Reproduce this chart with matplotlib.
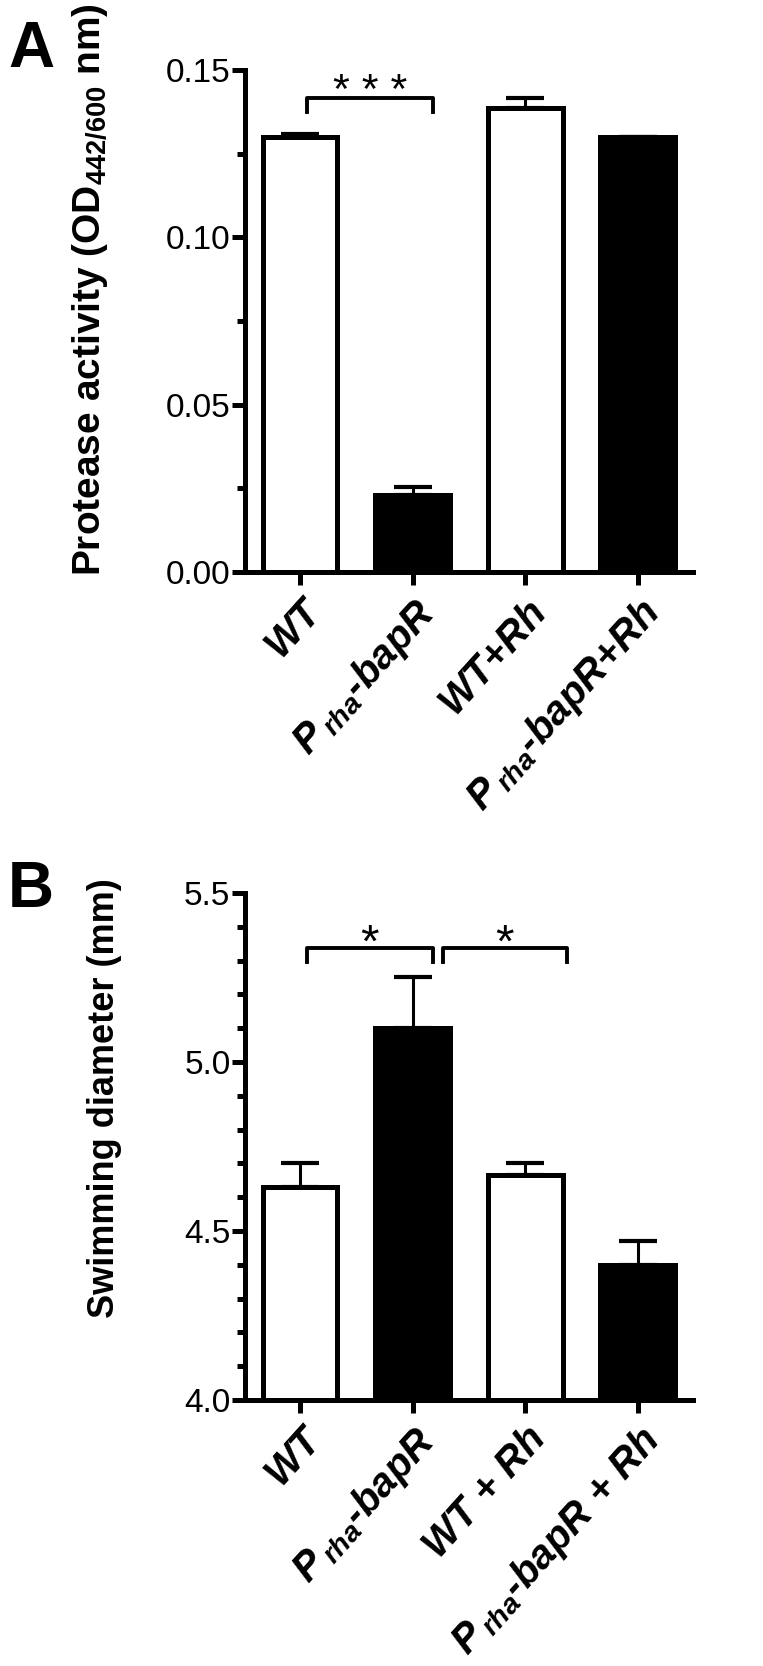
import matplotlib
matplotlib.use("Agg")
from matplotlib import pyplot as plt
from matplotlib.ticker import MultipleLocator, FormatStrFormatter

# panel A - protease activity
labels_a = ["WT", "$P_{\\,rha}$-bapR", "WT+Rh", "$P_{\\,rha}$-bapR+Rh"]
protease_mean = [0.130, 0.023, 0.1385, 0.130]
protease_err = [0.001, 0.0025, 0.003, 0.0]

# panel B - swimming diameter
labels_b = ["WT", "$P_{\\,rha}$-bapR", "WT + Rh", "$P_{\\,rha}$-bapR + Rh"]
swim_mean = [4.63, 5.10, 4.665, 4.40]
swim_err = [0.07, 0.15, 0.035, 0.07]

bar_colors = ["white", "black", "white", "black"]

# significance brackets: (x start, x end, y bar, y tip, text)
brackets_a = [(0.06, 1.18, 0.1416, 0.1374, "* * *")]
brackets_b = [(0.06, 1.18, 5.337, 5.296, "*"), (1.27, 2.37, 5.337, 5.296, "*")]

plt.rcParams["font.family"] = ["Liberation Sans", "DejaVu Sans"]
plt.rcParams["mathtext.fontset"] = "custom"
plt.rcParams["mathtext.rm"] = "Liberation Sans:bold"
plt.rcParams["mathtext.it"] = "Liberation Sans:bold:italic"
plt.rcParams["mathtext.bf"] = "Liberation Sans:bold"

LW = 3.6

fig = plt.figure(figsize=(7.63, 16.66), dpi=100)
ax_a = fig.add_axes([0.321, 0.6567, 0.587, 0.3013])
ax_b = fig.add_axes([0.321, 0.1597, 0.587, 0.3043])


def draw_panel(ax, means, errs, labels, ylim, major, minor, fmt, brackets, star_dy, star_size):
    x = list(range(len(means)))
    heights = [m - ylim[0] for m in means]
    ax.bar(x, heights, width=0.665, bottom=ylim[0], color=bar_colors,
           edgecolor="black", linewidth=LW, zorder=3)
    ax.errorbar(x, means, yerr=[[0] * len(errs), errs], fmt="none",
                ecolor="black", elinewidth=2.2, capsize=14, capthick=3, zorder=2)
    ax.set_xlim(-0.49, 3.49)
    ax.set_ylim(*ylim)
    ax.yaxis.set_major_locator(MultipleLocator(major))
    ax.yaxis.set_minor_locator(MultipleLocator(minor))
    ax.yaxis.set_major_formatter(FormatStrFormatter(fmt))
    ax.set_xticks(x)
    ax.set_xticklabels(labels, rotation=48, ha="right", va="top",
                       rotation_mode="anchor", fontsize=29,
                       fontweight="bold", fontstyle="italic")
    for s in ["top", "right"]:
        ax.spines[s].set_visible(False)
    for s in ["left", "bottom"]:
        ax.spines[s].set_linewidth(LW)
    ax.tick_params(axis="y", which="major", length=9.4, width=LW, pad=1, labelsize=24)
    ax.tick_params(axis="y", which="minor", length=5.8, width=LW)
    ax.tick_params(axis="x", which="major", length=9.4, width=LW, pad=5)
    for x0, x1, yb, yt, txt in brackets:
        ax.plot([x0, x0, x1, x1], [yt, yb, yb, yt], color="black", lw=2.8,
                solid_joinstyle="round", clip_on=False)
        ax.text((x0 + x1) / 2, yb + star_dy, txt, ha="center", va="baseline",
                fontsize=star_size)


draw_panel(ax_a, protease_mean, protease_err, labels_a, (0, 0.15), 0.05, 0.025,
           "%.2f", brackets_a, -0.0015, 31)
draw_panel(ax_b, swim_mean, swim_err, labels_b, (4.0, 5.5), 0.5, 0.1,
           "%.1f", brackets_b, -0.025, 34)

fig.text(90 / 763, 1 - 290 / 1666, "Protease activity (OD$_{442/600}$ nm)",
         rotation=90, ha="center", va="center", fontsize=28, fontweight="bold")
fig.text(104 / 763, 1 - 1098 / 1666, "Swimming diameter (mm)",
         rotation=90, ha="center", va="center", fontsize=26, fontweight="bold")

fig.text(8 / 763, 1 - 67 / 1666, "A", ha="left", va="baseline", fontsize=46, fontweight="bold")
fig.text(8 / 763, 1 - 907 / 1666, "B", ha="left", va="baseline", fontsize=46, fontweight="bold")

fig.savefig("out.png", dpi=100)
